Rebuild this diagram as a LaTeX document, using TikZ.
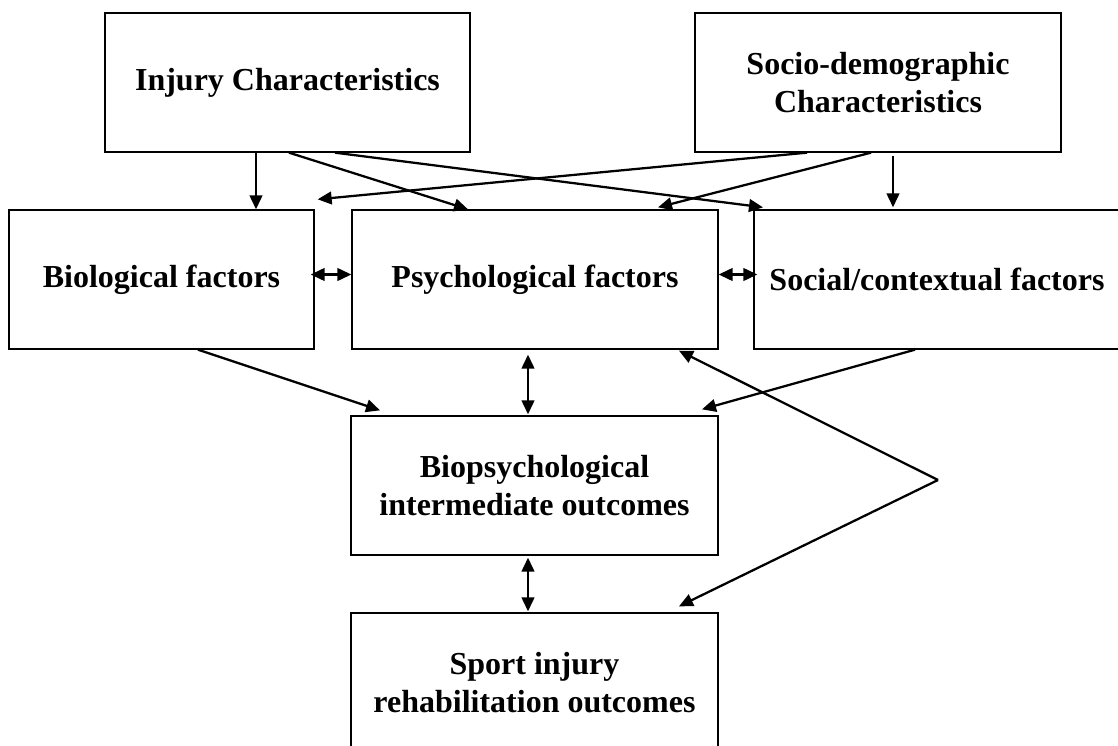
\documentclass[tikz,border=0pt]{standalone}
\usepackage{fontspec}
\setmainfont{Liberation Serif}
\usetikzlibrary{arrows.meta,calc}

\begin{document}
\begin{tikzpicture}[x=0.75pt, y=-0.75pt,
    box/.style={draw, line width=1pt, minimum height=104.25pt, align=center, inner sep=0pt,
        font=\fontsize{24}{28}\selectfont\bfseries},
    arr/.style={-{Triangle[length=10.5pt, width=9.5pt]}, line width=1.7pt},
    darr/.style={{Triangle[length=10.5pt, width=9.5pt]}-{Triangle[length=10.5pt, width=9.5pt]}, line width=1.7pt}]
    \useasboundingbox (0,0) rectangle (1118,746);

    \node[box, minimum width=273.75pt] (injury) at (287.5,82.5) {Injury Characteristics};
    \node[box, minimum width=274.5pt] (socio) at (878,82.5) {Socio-demographic\\Characteristics};

    \node[box, minimum width=228.75pt] (bio) at (161.5,279.5) {Biological factors};
    \node[box, minimum width=274.5pt] (psych) at (535,279.5) {Psychological factors};
    \node[box, minimum width=274.5pt] (social) at (937,279.5) {Social/contextual factors};

    \node[box, minimum width=275.25pt] (biopsych) at (534.5,485.5) {Biopsychological\\intermediate outcomes};
    \node[box, minimum width=275.25pt] (sport) at (534.5,682.5) {Sport injury\\rehabilitation outcomes};

    \draw[arr] ($(injury.south)+(-31.5,0)$) -- ($(bio.north)+(94.5,0)$);
    \draw[arr] ($(injury.south)+(1.5,0)$) -- ($(psych.north)+(-67,0)$);
    \draw[arr] ($(injury.south)+(47.5,0)$) -- ($(social.north)+(-174,-2)$);
    \draw[arr] ($(socio.south)+(-71,0)$) -- ($(bio.north east)+(3,-10)$);
    \draw[arr] ($(socio.south)+(-7,0)$) -- ($(psych.north)+(123,-2)$);
    \draw[arr] ($(socio.south)+(15,3)$) -- ($(social.north)+(-44,-2)$);

    \draw[darr] ($(bio.east)+(-4,-5)$) -- ($(psych.west)+(0,-5)$);
    \draw[darr] ($(psych.east)+(0,-5)$) -- ($(social.west)+(4,-5)$);

    \draw[arr] ($(bio.south)+(36.5,0)$) -- ($(biopsych.north)+(-154.5,-5)$);
    \draw[arr] ($(social.south)+(-22,0)$) -- ($(biopsych.north)+(167.5,-6)$);
    \draw[darr] ($(psych.south)+(-7,5)$) -- ($(biopsych.north)+(-6.5,-1)$);
    \draw[darr] ($(biopsych.south)+(-6.5,2)$) -- ($(sport.north)+(-6.5,-1)$);

    \coordinate (fork) at (938,480);
    \draw[arr] (fork) -- ($(psych.south)+(144,1)$);
    \draw[arr] (fork) -- ($(sport.north)+(144.5,-6)$);

\end{tikzpicture}
\end{document}
